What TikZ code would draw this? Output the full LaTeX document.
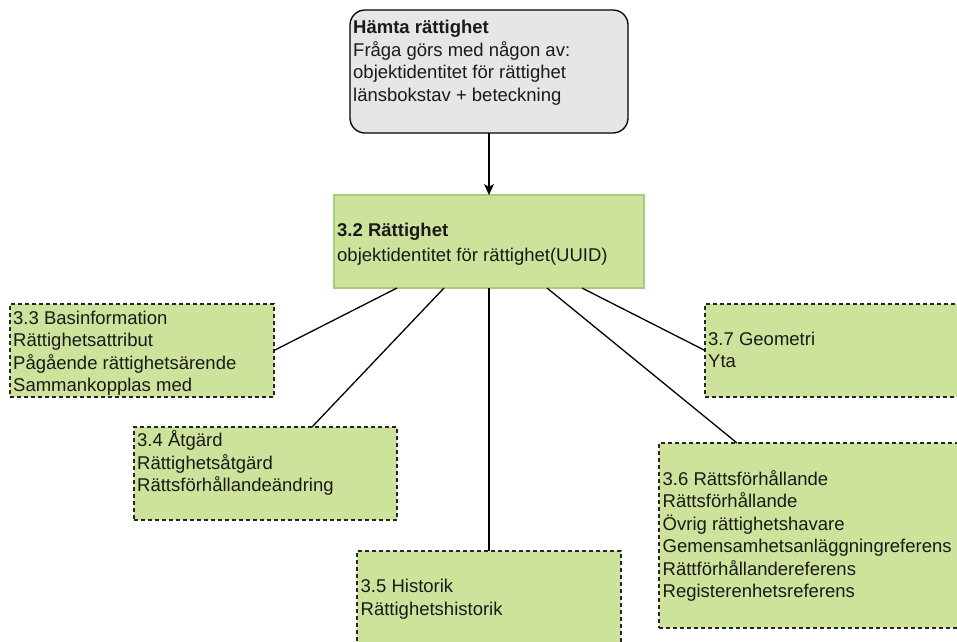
\documentclass[tikz,border=0pt]{standalone}
\usepackage{fontspec}
\setmainfont{Liberation Sans}
\usetikzlibrary{arrows.meta}
\definecolor{boxgreen}{HTML}{CDE29B}
\definecolor{boxgray}{HTML}{E6E6E6}
\definecolor{edgegreen}{HTML}{A9CB7E}
\definecolor{textdark}{HTML}{1A1A1A}
\tikzset{
  basebox/.style={anchor=north west, inner sep=0pt, outer sep=0pt},
  grayrounded/.style={basebox, draw=black, fill=boxgray, rounded corners=15pt, line width=1.3pt},
  greensolid/.style={basebox, draw=edgegreen, fill=boxgreen, line width=1.3pt},
  greendashed/.style={basebox, draw=black!85, fill=boxgreen, line width=1.3pt, dash pattern=on 4pt off 3pt},
  txt/.style={anchor=north west, inner sep=0pt, align=left, text=textdark, font=\fontsize{18.5}{22.5}\selectfont},
  link/.style={draw=black, line width=1.3pt},
}
\newcommand{\firststrut}{\rule{0pt}{18pt}}
\begin{document}
\begin{tikzpicture}[x=1pt,y=-1pt]
\useasboundingbox (0,0) rectangle (957,641);
\clip (0,0) rectangle (957,641);
% boxes
\node[grayrounded, minimum width=278pt, minimum height=123pt] (top) at (350,10) {};
\node[greensolid, minimum width=310pt, minimum height=93pt] (n32) at (334,195) {};
\node[greendashed, minimum width=264pt, minimum height=93pt] (n33) at (10,304) {};
\node[greendashed, minimum width=263pt, minimum height=93pt] (n34) at (134,427) {};
\node[greendashed, minimum width=264pt, minimum height=93pt] (n35) at (357,551) {};
\node[greendashed, minimum width=306pt, minimum height=185pt] (n36) at (659,443) {};
\node[greendashed, minimum width=264pt, minimum height=93pt] (n37) at (705,304) {};
% texts
\node[txt] (ttop) at (353,15.5) {\firststrut\textbf{Hämta rättighet}\\Fråga görs med någon av:\\objektidentitet för rättighet\\länsbokstav + beteckning};
\node[txt] (t32) at (337,218.5) {\firststrut\textbf{3.2 Rättighet}\\[2.5pt]objektidentitet för rättighet(UUID)};
\node[txt] (t33) at (13,306) {\firststrut 3.3 Basinformation\\Rättighetsattribut\\Pågående rättighetsärende\\Sammankopplas med};
\node[txt] (t37) at (708,327) {\firststrut 3.7 Geometri\\Yta};
\node[txt] (t34) at (137,428.7) {\firststrut 3.4 Åtgärd\\Rättighetsåtgärd\\Rättsförhållandeändring};
\node[txt] (t36) at (662.5,467) {\firststrut 3.6 Rättsförhållande\\Rättsförhållande\\Övrig rättighetshavare\\Gemensamhetsanläggningreferens\\Rättförhållandereferens\\Registerenhetsreferens};
\node[txt] (t35) at (360.5,574.3) {\firststrut 3.5 Historik\\Rättighetshistorik};
% connectors
\draw[link, -{Stealth[length=11pt,width=10pt,inset=3pt]}] (top.south) -- (n32.north);
\draw[link] ([xshift=-92pt]n32.south) -- (n33.east);
\draw[link] ([xshift=-45pt]n32.south) -- ([xshift=46.5pt]n34.north);
\draw[link] (n32.south) -- (n35.north);
\draw[link] ([xshift=58pt]n32.south) -- ([xshift=-75pt]n36.north);
\draw[link] ([xshift=93pt]n32.south) -- (n37.west);
\end{tikzpicture}
\end{document}
